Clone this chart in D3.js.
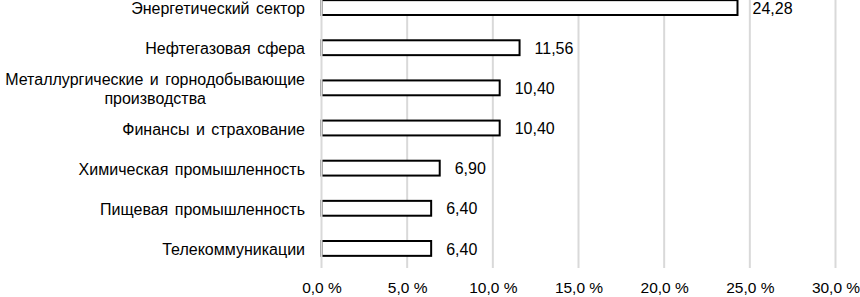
<!DOCTYPE html>
<html><head><meta charset="utf-8">
<script src="https://cdn.jsdelivr.net/npm/d3@7/dist/d3.min.js"></script>
<style>
html,body{margin:0;padding:0;background:#fff;}
text{font-family:"Liberation Sans",Arial,sans-serif;fill:#000;}
</style></head>
<body><svg id="c" width="860" height="297"></svg>
<script>
const categories = [
  ["Энергетический сектор"],
  ["Нефтегазовая сфера"],
  ["Металлургические и горнодобывающие","производства"],
  ["Финансы и страхование"],
  ["Химическая промышленность"],
  ["Пищевая промышленность"],
  ["Телекоммуникации"]
];
const values = [24.28, 11.56, 10.40, 10.40, 6.90, 6.40, 6.40];
const tickValues = [0, 5, 10, 15, 20, 25, 30];

const svg = d3.select("#c");
const fs = 16;
const x = d3.scaleLinear().domain([0, 30]).range([321.5, 835.5]);
const ids = categories.map((d, i) => i);
const y = d3.scaleBand().domain(ids).range([-12.5, 268.5]).paddingInner(0.63).paddingOuter(0.315);

// gridlines
const grid = svg.append("g");
grid.selectAll("line").data(tickValues.filter(t => t > 0)).join("line")
  .attr("x1", d => x(d)).attr("x2", d => x(d))
  .attr("y1", 0).attr("y2", 268)
  .attr("stroke", "#d9d9d9").attr("stroke-width", 2);

// bars
svg.append("g").selectAll("rect").data(values).join("rect")
  .attr("x", x(0)).attr("y", (d, i) => y(i))
  .attr("width", d => x(d) - x(0)).attr("height", y.bandwidth())
  .attr("fill", "#fff").attr("stroke", "#000").attr("stroke-width", 2);

// zero line on top
svg.append("line").attr("x1", x(0)).attr("x2", x(0)).attr("y1", 0).attr("y2", 268)
  .attr("stroke", "#d9d9d9").attr("stroke-width", 2);

// value labels
const fmt = v => d3.format(".2f")(v).replace(".", ",");
svg.append("g").selectAll("text").data(values).join("text")
  .attr("x", d => x(d) + 15).attr("y", (d, i) => y(i) + y.bandwidth() / 2)
  .attr("dy", "0.38em").attr("font-size", fs)
  .text(d => fmt(d));

// category labels
const labelRight = 305;
const lab = svg.append("g").selectAll("text").data(categories).join("text")
  .attr("font-size", fs).attr("word-spacing", 2);
lab.each(function(lines, i) {
  const cy = y(i) + y.bandwidth() / 2 + 1;
  const t = d3.select(this);
  const lh = 19;
  let firstW = 0;
  lines.forEach((ln, j) => {
    const off = (j - (lines.length - 1) / 2) * lh;
    const ts = t.append("tspan")
      .attr("y", cy + off).attr("dy", "0.36em")
      .text(ln);
    if (j === 0) {
      ts.attr("x", labelRight).attr("text-anchor", "end");
      firstW = ts.node().getComputedTextLength();
    } else {
      ts.attr("x", labelRight - firstW / 2).attr("text-anchor", "middle");
    }
  });
});

// x axis tick labels
const tfmt = v => d3.format(".1f")(v).replace(".", ",") + " %";
const ax = d3.axisBottom(x).tickValues(tickValues).tickSize(0).tickPadding(0).tickFormat(tfmt);
const axg = svg.append("g").attr("transform", "translate(0,282)").call(ax);
axg.select(".domain").remove();
axg.selectAll("text").attr("font-size", 15.5).attr("font-family", "Liberation Sans, Arial, sans-serif").attr("fill", "#000");
</script></body></html>
